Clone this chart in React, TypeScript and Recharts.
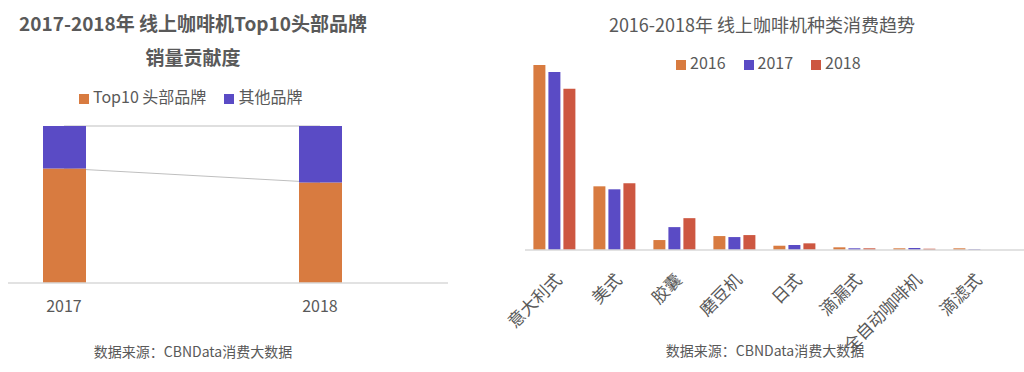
import React from "react"
import { ComposedChart, BarChart, Bar, Line, XAxis, YAxis, Legend } from "recharts"

// 左图：Top10 头部品牌销量贡献度
const shareYears = [2017, 2018]
const top10Share = [73, 64]
const otherShare = [27, 36]

// 右图：种类消费趋势
const machineTypes = ["意大利式", "美式", "胶囊", "磨豆机", "日式", "滴漏式", "全自动咖啡机", "滴滤式"]
const sales2016 = [186, 64, 10, 14, 4.3, 2.7, 1.7, 1.7]
const sales2017 = [179, 61, 23, 13, 5, 1.7, 2, 0.7]
const sales2018 = [162, 67, 32, 15, 6.7, 1.7, 1.3, 0]

const FONT = '"Noto Sans CJK SC", "Noto Sans", sans-serif'
const TEXT = "#595959"
const ORANGE = "#D87B40"
const PURPLE = "#5A4BC5"
const RED = "#CD5741"
const AXIS = "#d9d9d9"

const shareData = shareYears.map((y, i) => ({
  year: y,
  top10: top10Share[i],
  other: otherShare[i],
  total: top10Share[i] + otherShare[i],
}))

const typeData = machineTypes.map((name, i) => ({
  name,
  y2016: sales2016[i],
  y2017: sales2017[i],
  y2018: sales2018[i],
}))

const legendText = (value: string) => (
  <span style={{ color: TEXT, fontSize: 16, fontFamily: FONT, marginRight: 8 }}>{value}</span>
)

function RotatedTick(props: any) {
  const { x, y, payload } = props
  const ax = x + 8
  const ay = y + 31
  return (
    <text
      x={ax}
      y={ay}
      transform={`rotate(-45, ${ax}, ${ay})`}
      textAnchor="end"
      fill={TEXT}
      fontSize={17}
      fontFamily={FONT}
    >
      {payload.value}
    </text>
  )
}

function ShareChart() {
  return (
    <div style={{ position: "absolute", left: 0, top: 0, width: 470, height: 372 }}>
      <div
        style={{
          position: "absolute", left: 0, width: 386, top: 6, textAlign: "center",
          fontFamily: FONT, fontSize: 19, fontWeight: 700, color: TEXT, lineHeight: "34px",
        }}
      >
        2017-2018年 线上咖啡机Top10头部品牌
        <br />
        销量贡献度
      </div>
      <ComposedChart width={470} height={372} data={shareData} margin={{ top: 102, right: 22, bottom: 59, left: 8 }}>
        <YAxis hide domain={[0, 100]} />
        <XAxis
          dataKey="year"
          type="number"
          domain={[2016.78125, 2018.5]}
          ticks={shareYears}
          allowDataOverflow
          height={30}
          tickSize={0}
          tickMargin={18}
          axisLine={{ stroke: AXIS, strokeWidth: 1.5 }}
          tick={{ fill: TEXT, fontSize: 16, fontFamily: FONT }}
        />
        <Legend
          verticalAlign="top"
          align="left"
          iconType="square"
          iconSize={10}
          formatter={legendText}
          wrapperStyle={{ top: 84, left: 79, width: "auto" }}
        />
        <Line dataKey="total" stroke="#bfbfbf" strokeWidth={1} dot={false} legendType="none" isAnimationActive={false} zIndex={100} />
        <Line dataKey="top10" stroke="#bfbfbf" strokeWidth={1} dot={false} legendType="none" isAnimationActive={false} zIndex={100} />
        <Bar dataKey="top10" name="Top10 头部品牌" stackId="s" fill={ORANGE} barSize={43} isAnimationActive={false} />
        <Bar dataKey="other" name="其他品牌" stackId="s" fill={PURPLE} barSize={43} isAnimationActive={false} />
      </ComposedChart>
      <div
        style={{
          position: "absolute", left: 0, width: 386, top: 341, textAlign: "center",
          fontFamily: FONT, fontSize: 14, color: TEXT,
        }}
      >
        数据来源：CBNData消费大数据
      </div>
    </div>
  )
}

function TypeChart() {
  return (
    <div style={{ position: "absolute", left: 480, top: 0, width: 544, height: 372 }}>
      <div
        style={{
          position: "absolute", left: 0, width: 564, top: 11, textAlign: "center",
          fontFamily: FONT, fontSize: 18, color: TEXT,
        }}
      >
        2016-2018年 线上咖啡机种类消费趋势
      </div>
      <BarChart
        width={544}
        height={372}
        data={typeData}
        margin={{ top: 27, right: 0, bottom: 22, left: 45 }}
        barCategoryGap="14%"
        barGap={3}
      >
        <YAxis hide domain={[0, 200]} />
        <XAxis
          dataKey="name"
          height={100}
          interval={0}
          padding={{ left: 0, right: 19 }}
          tickSize={0}
          tickMargin={0}
          axisLine={{ stroke: AXIS, strokeWidth: 1.5 }}
          tick={<RotatedTick />}
        />
        <Legend
          verticalAlign="top"
          align="left"
          iconType="square"
          iconSize={10}
          formatter={legendText}
          wrapperStyle={{ top: 50, left: 196, width: "auto" }}
        />
        <Bar dataKey="y2016" name="2016" fill={ORANGE} isAnimationActive={false} />
        <Bar dataKey="y2017" name="2017" fill={PURPLE} isAnimationActive={false} />
        <Bar dataKey="y2018" name="2018" fill={RED} isAnimationActive={false} />
      </BarChart>
      <div
        style={{
          position: "absolute", left: 0, width: 570, top: 340, textAlign: "center",
          fontFamily: FONT, fontSize: 14, color: TEXT,
        }}
      >
        数据来源：CBNData消费大数据
      </div>
    </div>
  )
}

export default function App() {
  return (
    <div style={{ position: "absolute", left: 0, top: 0, width: 1024, height: 372, background: "#fff" }}>
      <ShareChart />
      <TypeChart />
    </div>
  )
}
